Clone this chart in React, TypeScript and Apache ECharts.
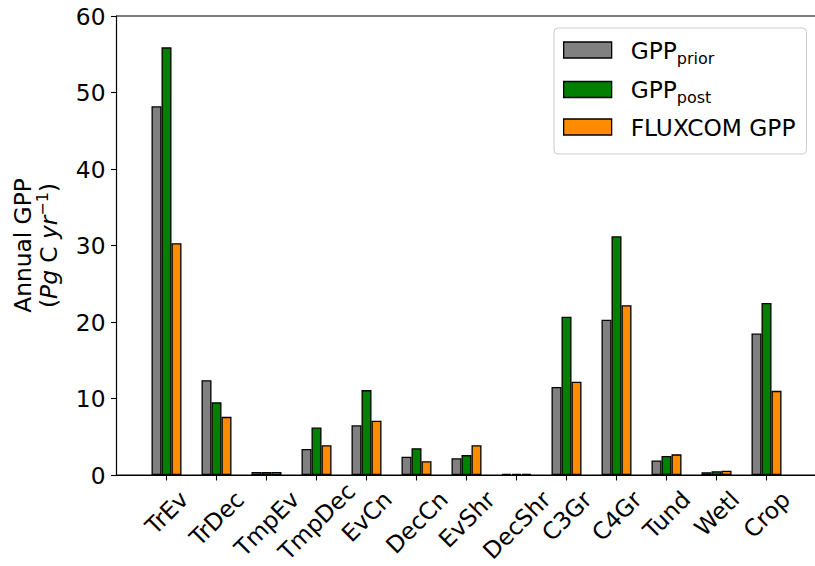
import React, { useEffect, useRef } from "react";
import * as echarts from "echarts";

const categories = ["TrEv", "TrDec", "TmpEv", "TmpDec", "EvCn", "DecCn", "EvShr", "DecShr", "C3Gr", "C4Gr", "Tund", "Wetl", "Crop"];
const gppPrior = [48.2, 12.4, 0.4, 3.4, 6.5, 2.4, 2.2, 0.15, 11.5, 20.3, 1.9, 0.37, 18.5];
const gppPost = [55.9, 9.5, 0.4, 6.2, 11.1, 3.5, 2.6, 0.15, 20.7, 31.2, 2.5, 0.5, 22.5];
const fluxcom = [30.3, 7.6, 0.4, 3.9, 7.1, 1.8, 3.9, 0.15, 12.2, 22.2, 2.7, 0.55, 11.0];
const yTicks = [0, 10, 20, 30, 40, 50, 60];

const FONT = "DejaVu Sans";
const FS = 23.3;
const LABEL_MARGIN = 30;

export default function App() {
  const ref = useRef<HTMLDivElement>(null);
  useEffect(() => {
    if (!ref.current) return;
    const chart = echarts.init(ref.current, undefined, { renderer: "svg" });
    const cvs = document.createElement("canvas");
    const ctx = cvs.getContext("2d")!;
    ctx.font = `${FS}px "${FONT}"`;
    const h = FS * 1.164;
    const axisY = 475;
    const rich: Record<string, any> = {};
    categories.forEach((c, i) => {
      const w = ctx.measureText(c).width;
      const half = (w + h) / (2 * Math.SQRT2);
      let center = 10.5 + half;
      // keep rotated text box inside the page
      const maxCenter = 565 - axisY - half;
      if (center > maxCenter) center = maxCenter;
      const dy = Math.max(0, center - LABEL_MARGIN);
      const p = Math.SQRT2 * dy;
      rich["c" + i] = {
        fontFamily: FONT,
        fontSize: FS,
        color: "#000",
        padding: [p, p, 0, 0],
      };
    });
    const idx = categories.map((_, i) => i);
    const mk = (name: string, data: number[], color: string) => ({
      name,
      type: "bar",
      data: data.map((v, i) => [i, v]),
      barWidth: 10,
      barGap: "0%",
      itemStyle: { color, borderColor: "#000", borderWidth: 1.3 },
      emphasis: { disabled: true },
    });
    chart.setOption({
      animation: false,
      grid: {
        left: 116.5,
        top: 16,
        width: 700,
        height: 459,
        outerBoundsMode: "none",
        containLabel: false,
        show: true,
        borderColor: "#000",
        borderWidth: 1.1,
        backgroundColor: "transparent",
      },
      legend: {
        orient: "vertical",
        left: 554,
        top: 28,
        padding: [6, 11, 13, 9],
        itemWidth: 48,
        itemHeight: 16,
        itemGap: 7.5,
        icon: "rect",
        selectedMode: false,
        borderColor: "#cccccc",
        borderWidth: 1,
        borderRadius: 4,
        backgroundColor: "rgba(255,255,255,0.8)",
        itemStyle: { borderColor: "#000", borderWidth: 1.3 },
        formatter: (name: string) => {
          if (name === "GPP prior") return "{m|GPP}{s|prior}";
          if (name === "GPP post") return "{m|GPP}{s|post}";
          return "{m|" + name + "}";
        },
        textStyle: {
          fontFamily: FONT,
          fontSize: FS,
          color: "#000",
          lineHeight: 28,
          rich: {
            m: { fontFamily: FONT, fontSize: FS, color: "#000", lineHeight: 28, padding: [0, 0, 0, 14] },
            s: { fontFamily: FONT, fontSize: 16, color: "#000", lineHeight: 14, padding: [16, 0, 0, 0] },
          },
        },
      },
      xAxis: {
        type: "value",
        min: -1,
        max: 13,
        splitLine: { show: false },
        axisLine: { show: true, onZero: false, lineStyle: { color: "#000", width: 1.1 } },
        axisTick: { show: true, length: 5.5, customValues: idx, lineStyle: { color: "#000", width: 1.1 } },
        axisLabel: {
          customValues: idx,
          rotate: 45,
          margin: LABEL_MARGIN,
          align: "center",
          verticalAlign: "middle",
          formatter: (v: number) => {
            const i = Math.round(v);
            return categories[i] !== undefined ? `{c${i}|${categories[i]}}` : "";
          },
          rich,
        },
      },
      yAxis: {
        type: "value",
        min: 0,
        max: 60,
        interval: 10,
        splitLine: { show: false },
        axisLine: { show: true, onZero: false, lineStyle: { color: "#000", width: 1.1 } },
        axisTick: { show: true, length: 5.5, lineStyle: { color: "#000", width: 1.1 } },
        axisLabel: {
          margin: 11,
          fontFamily: FONT,
          fontSize: FS,
          color: "#000",
          formatter: (v: number) => (yTicks.includes(v) ? String(v) : ""),
        },
        name: "{n|Annual GPP}\n{n|(}{i|Pg}{n| C }{i|yr}{sup|−1}{n|)}",
        nameLocation: "middle",
        nameRotate: 90,
        nameGap: 55,
        nameTextStyle: {
          fontFamily: FONT,
          fontSize: FS,
          color: "#000",
          lineHeight: 26,
          rich: {
            n: { fontFamily: FONT, fontSize: FS, color: "#000", lineHeight: 26 },
            i: { fontFamily: FONT, fontSize: FS, fontStyle: "italic", color: "#000", lineHeight: 26 },
            sup: { fontFamily: FONT, fontSize: 16, color: "#000", lineHeight: 14, padding: [0, 0, 12, 0] },
          },
        },
      },
      series: [
        mk("GPP prior", gppPrior, "#808080"),
        mk("GPP post", gppPost, "#008000"),
        mk("FLUXCOM GPP", fluxcom, "#ff8c00"),
      ],
    });
    return () => chart.dispose();
  }, []);
  return <div ref={ref} style={{ width: 815, height: 566, position: "absolute", left: 0, top: 0 }} />;
}
